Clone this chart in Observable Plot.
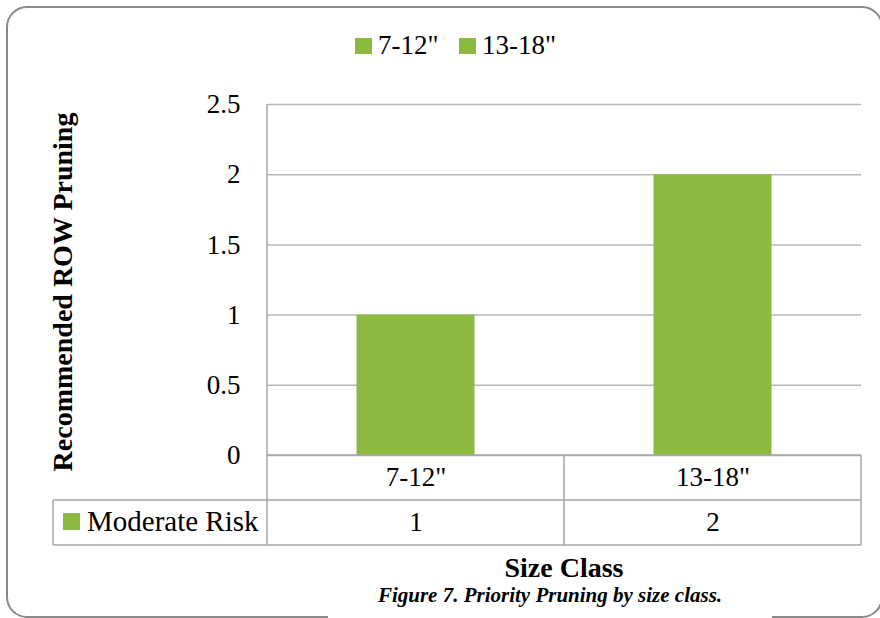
<!DOCTYPE html>
<html>
<head>
<meta charset="utf-8">
<script src="https://cdn.jsdelivr.net/npm/d3@7"></script>
<script src="https://cdn.jsdelivr.net/npm/@observablehq/plot@0.6"></script>
<style>
  html, body { margin: 0; padding: 0; background: #fff; }
  #chart { width: 880px; height: 618px; }
  #chart svg, #chart svg text { font-family: "Liberation Serif", serif; }
</style>
</head>
<body>
<div id="chart"></div>
<script>
// ---- data ----
const categories = ['7-12"', '13-18"'];
const values = [1, 2];
const seriesName = "Moderate Risk";
const yTicks = [0, 0.5, 1, 1.5, 2, 2.5];
const legendLabels = ['7-12"', '13-18"'];
const yTitle = "Recommended ROW Pruning";
const xTitle = "Size Class";
const caption = "Figure 7. Priority Pruning by size class.";

const green = "#8cb93f";
const gray = "#a6a6a6";
const font = '"Liberation Serif", serif';

const data = categories.map((c, i) => ({cat: c, value: values[i]}));

const plot = Plot.plot({
  width: 880,
  height: 618,
  marginLeft: 267,
  marginRight: 19,
  marginTop: 104,
  marginBottom: 163,
  style: {fontFamily: font, fontSize: "27px", color: "#000", background: "#fff", overflow: "visible"},
  x: {domain: categories, padding: 0, axis: null},
  y: {domain: [0, 2.5], label: null, axis: null},
  marks: [
    Plot.gridY(yTicks, {stroke: "#b8b8b8", strokeOpacity: 1, strokeWidth: 1.5}),
    Plot.axisY(yTicks, {tickSize: 0, tickPadding: 27, label: null, fontSize: 27, fontFamily: font, tickFormat: d => String(d)}),
    Plot.barY(data, {x: "cat", y: "value", fill: green, insetLeft: 89.5, insetRight: 89.5}),
    Plot.text(data, {x: "cat", y: () => 0, text: "cat", dy: 22, fontSize: 27, fontFamily: font, fill: "#000"}),
    Plot.text(data, {x: "cat", y: () => 0, text: d => String(d.value), dy: 67, fontSize: 27, fontFamily: font, fill: "#000"})
  ]
});

document.getElementById("chart").appendChild(plot);

const svg = d3.select(plot).attr("font-family", font);
const xs = plot.scale("x");
const ys = plot.scale("y");
const left = xs.range[0], right = xs.range[1];
const y0 = ys.apply(0), yTop = ys.apply(2.5);
const rowH = 45;
const tableLeft = 53;

// outer rounded frame (behind everything)
svg.insert("rect", ":first-child")
  .attr("x", 7).attr("y", 7).attr("width", 875).attr("height", 610).attr("rx", 20)
  .attr("fill", "#fff").attr("stroke", "#8a8a8a").attr("stroke-width", 2);

const g = svg.append("g").attr("stroke", gray).attr("stroke-width", 1.5).attr("fill", "none");
// y axis line extending through table
g.append("line").attr("x1", left).attr("x2", left).attr("y1", yTop).attr("y2", y0 + 2 * rowH);
// x axis line / table top
g.append("line").attr("x1", left).attr("x2", right).attr("y1", y0).attr("y2", y0);
// row separator and bottom, extending left for series label cell
g.append("line").attr("x1", tableLeft).attr("x2", right).attr("y1", y0 + rowH).attr("y2", y0 + rowH);
g.append("line").attr("x1", tableLeft).attr("x2", right).attr("y1", y0 + 2 * rowH).attr("y2", y0 + 2 * rowH);
g.append("line").attr("x1", tableLeft).attr("x2", tableLeft).attr("y1", y0 + rowH).attr("y2", y0 + 2 * rowH);
// category boundaries
categories.forEach(c => {
  const xe = xs.apply(c) + xs.bandwidth;
  g.append("line").attr("x1", xe).attr("x2", xe).attr("y1", y0).attr("y2", y0 + 2 * rowH);
});

const txt = (x, y, s, size, opts = {}) => svg.append("text")
  .attr("x", x).attr("y", y)
  .attr("text-anchor", opts.anchor || "start")
  .attr("font-family", font)
  .attr("font-weight", opts.weight || "normal")
  .attr("font-style", opts.style || "normal")
  .attr("font-size", size).attr("fill", "#000")
  .attr("transform", opts.transform || null)
  .text(s);

// series label in table
svg.append("rect").attr("x", 63).attr("y", y0 + rowH + 13).attr("width", 17).attr("height", 17).attr("fill", green);
txt(87, y0 + rowH + 31, seriesName, 29);

// legend at top
const legendX = [355, 459];
legendLabels.forEach((l, i) => {
  svg.append("rect").attr("x", legendX[i]).attr("y", 38).attr("width", 17).attr("height", 16).attr("fill", green);
  txt(legendX[i] + 23, 54, l, 27);
});

// y title
txt(0, 0, yTitle, 28, {anchor: "middle", weight: "bold", transform: `translate(72,292) rotate(-90)`});

// x title
txt(564, 577, xTitle, 28, {anchor: "middle", weight: "bold"});

// caption with white box over frame
svg.append("rect").attr("x", 328).attr("y", 582).attr("width", 444).attr("height", 40).attr("fill", "#fff");
txt(550, 602, caption, 21, {anchor: "middle", weight: "bold", style: "italic"});
</script>
</body>
</html>
